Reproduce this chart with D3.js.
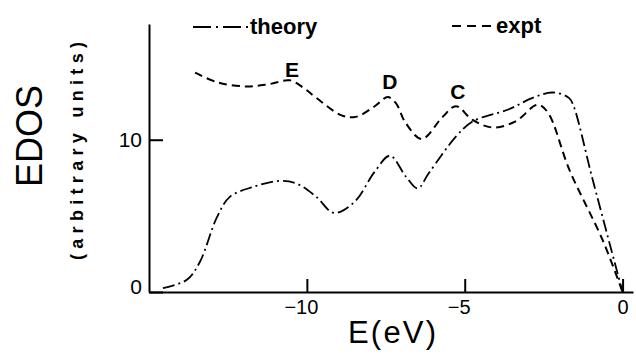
<!DOCTYPE html>
<html>
<head>
<meta charset="utf-8">
<script src="https://cdn.jsdelivr.net/npm/d3@7"></script>
<style>
  body { margin: 0; background: #fff; }
  svg { display: block; font-family: "Liberation Sans", Arial, sans-serif; }
</style>
</head>
<body>
<svg id="chart" width="636" height="354"></svg>
<script>
// values
const theoryE = [-14.56, -13.8, -13.39, -12.85, -12.44, -11.7, -10.85, -10.3, -9.7, -9.15, -8.5, -7.85, -7.37, -6.87, -6.49, -6.14, -5.28, -4.75, -3.6, -2.85, -2.22, -1.7, -1.55, -0.95, 0];
const theoryY = [0.26, 0.8, 1.97, 4.9, 6.25, 6.9, 7.3, 7.1, 6.25, 5.2, 5.9, 7.9, 8.95, 7.6, 6.8, 7.8, 10.2, 11.2, 12.0, 12.75, 13.1, 12.75, 12.2, 7.4, 0];

const exptE = [-13.54, -12.8, -11.9, -11.2, -10.54, -10.1, -9.7, -8.9, -8.45, -7.85, -7.44, -7.18, -6.87, -6.36, -5.7, -5.28, -4.75, -4.1, -3.39, -2.69, -2.37, -1.68, -0.63, 0];
const exptY = [14.4, 13.75, 13.5, 13.65, 13.9, 13.4, 12.75, 11.6, 11.5, 12.2, 12.8, 12.4, 11.1, 10.05, 11.5, 12.2, 11.3, 10.8, 11.2, 12.3, 11.8, 8.0, 3.4, 0];

const peakNames = ["E", "D", "C"];
const peakE = [-10.47, -7.37, -5.22];
const peakY = [14.1, 13.3, 12.7];

const xTicks = [-10, -5, 0];
const yTicks = [0, 10];

var svg = d3.select("#chart");

var x = d3.scaleLinear().domain([-15, 0.33]).range([149, 633]);
var y = d3.scaleLinear().domain([0, 17.6]).range([292, 24]);

var fmt = d3.format("d");

// axes, ticks pointing inward
var xAxis = svg.append("g")
  .attr("transform", "translate(0,292)")
  .call(d3.axisBottom(x).tickValues(xTicks).tickSizeInner(-13).tickSizeOuter(0).tickPadding(8).tickFormat(fmt));
xAxis.selectAll("text")
  .attr("font-size", 20)
  .attr("font-family", "Liberation Sans, Arial, sans-serif")
  .attr("fill", "#000")
  .attr("dx", d => d < 0 ? "-0.3em" : 0);

var yAxis = svg.append("g")
  .attr("transform", "translate(149,0)")
  .call(d3.axisLeft(y).tickValues(yTicks).tickSizeInner(-14).tickSizeOuter(0).tickPadding(7).tickFormat(fmt));
yAxis.selectAll("text")
  .attr("font-size", 21)
  .attr("font-family", "Liberation Sans, Arial, sans-serif")
  .attr("fill", "#000")
  .attr("dy", d => d === 0 ? "0.05em" : "0.32em");

svg.selectAll(".domain, .tick line").attr("stroke", "#000").attr("stroke-width", 2);

// curves
var line = d3.line()
  .x(d => x(d[0]))
  .y(d => y(d[1]))
  .curve(d3.curveCatmullRom.alpha(0.5));

svg.append("path")
  .datum(d3.zip(theoryE, theoryY))
  .attr("d", line)
  .attr("fill", "none")
  .attr("stroke", "#000")
  .attr("stroke-width", 1.8)
  .attr("stroke-dasharray", "12,4,2,4");

svg.append("path")
  .datum(d3.zip(exptE, exptY))
  .attr("d", line)
  .attr("fill", "none")
  .attr("stroke", "#000")
  .attr("stroke-width", 2)
  .attr("stroke-dasharray", "8,5");

// peak labels
svg.selectAll(".peak")
  .data(peakNames)
  .enter()
  .append("text")
  .attr("class", "peak")
  .attr("x", (d, i) => x(peakE[i]))
  .attr("y", (d, i) => y(peakY[i]))
  .attr("text-anchor", "middle")
  .attr("font-size", 21)
  .attr("font-weight", "bold")
  .text(d => d);

// legend
svg.append("line")
  .attr("x1", 193).attr("x2", 249).attr("y1", 27).attr("y2", 27)
  .attr("stroke", "#000").attr("stroke-width", 2)
  .attr("stroke-dasharray", "18,5,2,5");
svg.append("text")
  .attr("x", 250).attr("y", 34)
  .attr("font-size", 22).attr("font-weight", "bold")
  .text("theory");

svg.append("line")
  .attr("x1", 452).attr("x2", 492).attr("y1", 26).attr("y2", 26)
  .attr("stroke", "#000").attr("stroke-width", 2)
  .attr("stroke-dasharray", "9,6");
svg.append("text")
  .attr("x", 496).attr("y", 33)
  .attr("font-size", 22).attr("font-weight", "bold")
  .text("expt");

// axis titles
svg.append("text")
  .attr("transform", "translate(42,136) rotate(-90)")
  .attr("text-anchor", "middle")
  .attr("font-size", 36)
  .text("EDOS");

svg.append("text")
  .attr("transform", "translate(83,151) rotate(-90)")
  .attr("text-anchor", "middle")
  .attr("font-size", 18)
  .attr("font-weight", "bold")
  .attr("textLength", 218)
  .attr("lengthAdjust", "spacing")
  .text("(arbitrary units)");

svg.append("text")
  .attr("x", 392).attr("y", 343)
  .attr("text-anchor", "middle")
  .attr("font-size", 31)
  .attr("textLength", 88)
  .attr("lengthAdjust", "spacing")
  .text("E(eV)");
</script>
</body>
</html>
